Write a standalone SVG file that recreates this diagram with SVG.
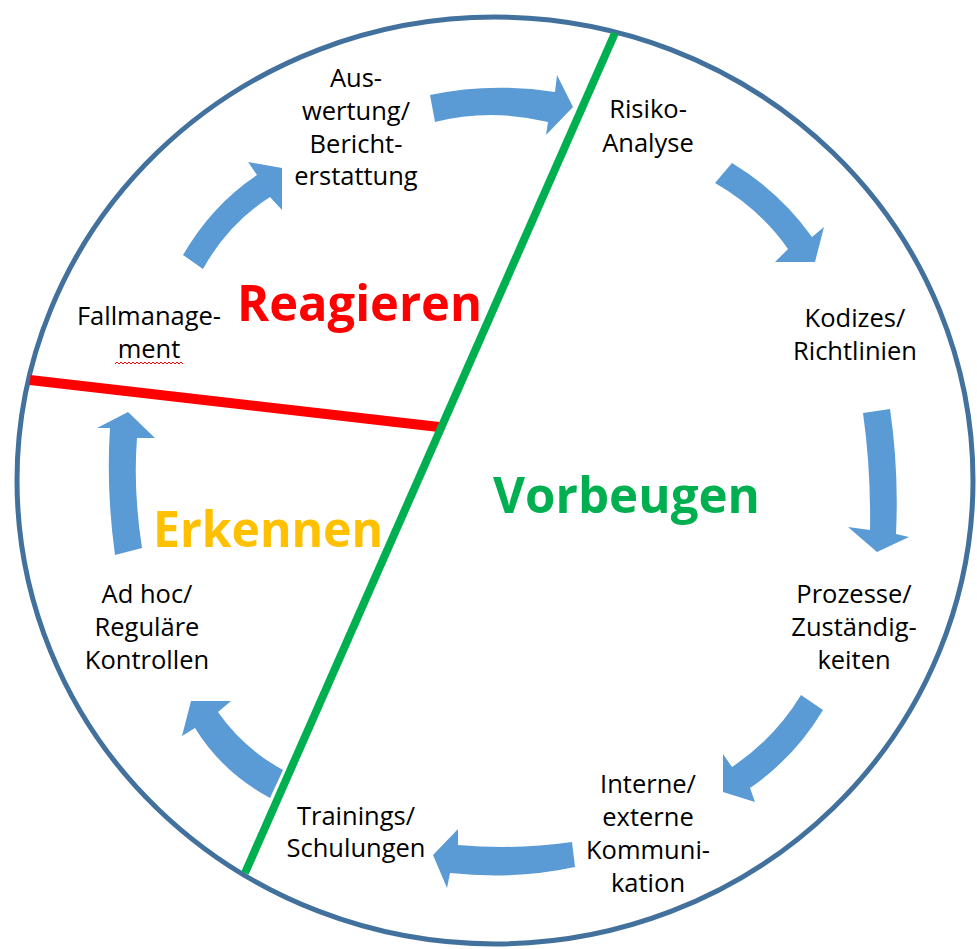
<svg xmlns="http://www.w3.org/2000/svg" width="977" height="949" viewBox="0 0 977 949">
  <style>
    .lbl { font-family: "Open Sans", "Liberation Sans", sans-serif; font-size: 25.5px; fill: #000; text-anchor: middle; }
    .big { font-family: "Open Sans", "Liberation Sans", sans-serif; font-weight: bold; font-size: 50px; }
    .arr { fill: #5B9BD5; }
  </style>
  <rect x="0" y="0" width="977" height="949" fill="#fff"/>
  <g id="connectors">
    <path class="arr" d="M430,95 Q490,82 555,92 L557,75 L573,107 L546,135 L548,122 Q490,108 435,122 Z"/>
    <path class="arr" d="M732,163 Q780,192 812,237 L824,227 L815,262 L775,262 L788,249 Q759,208 715,183 Z"/>
    <path class="arr" d="M863,413 L890,409 Q899,470 896,534 L909,537 L877,552 L848,527 L870,530 Q871,470 863,413 Z"/>
    <path class="arr" d="M801,695 L823,710 Q795,757 750,788 L755,802 L723,792 L723,754 L732,767 Q775,738 801,695 Z"/>
    <path class="arr" d="M572,842 Q515,850 458,845 L458,829 L433,855 L447,888 L450,873 Q515,880 575,867 Z"/>
    <path class="arr" d="M191,701 L231,701 L218,712 Q243,748 283,770 L270,798 Q222,772 195,728 L182,736 Z"/>
    <path class="arr" d="M115,555 L142,548 Q133,490 137,438 L155,438 L128,412 L97,428 L110,428 Q106,490 115,555 Z"/>
    <path class="arr" d="M282,168 L248,162 L257,175 Q212,205 183,255 L203,269 Q228,224 270,197 L282,210 Z"/>
  </g>
  <g id="frame">
    <ellipse cx="495" cy="480.5" rx="478" ry="463.5" fill="none" stroke="#41719C" stroke-width="5"/>
    <line x1="30" y1="380" x2="439" y2="427" stroke="#FF0000" stroke-width="10"/>
    <line x1="615" y1="33" x2="245" y2="873" stroke="#00B050" stroke-width="8"/>
  </g>
  <g id="phase-reagieren"><text class="big" x="237" y="321" fill="#FF0000" textLength="245" lengthAdjust="spacingAndGlyphs">Reagieren</text></g>
  <g id="phase-vorbeugen"><text class="big" x="493" y="513" fill="#00B050" textLength="267" lengthAdjust="spacingAndGlyphs">Vorbeugen</text></g>
  <g id="phase-erkennen"><text class="big" x="153" y="547" fill="#FFC000" textLength="230" lengthAdjust="spacingAndGlyphs">Erkennen</text></g>
  <g id="node-auswertung">
    <text class="lbl" x="356" y="87">Aus-</text>
    <text class="lbl" x="356" y="120">wertung/</text>
    <text class="lbl" x="356" y="153">Bericht-</text>
    <text class="lbl" x="356" y="185">erstattung</text>
  </g>
  <g id="node-risiko">
    <text class="lbl" x="648" y="118">Risiko-</text>
    <text class="lbl" x="648" y="152">Analyse</text>
  </g>
  <g id="node-kodizes">
    <text class="lbl" x="855" y="327">Kodizes/</text>
    <text class="lbl" x="855" y="360">Richtlinien</text>
  </g>
  <g id="node-prozesse">
    <text class="lbl" x="854" y="603">Prozesse/</text>
    <text class="lbl" x="854" y="636">Zuständig-</text>
    <text class="lbl" x="854" y="669">keiten</text>
  </g>
  <g id="node-kommunikation">
    <text class="lbl" x="648" y="793">Interne/</text>
    <text class="lbl" x="648" y="826">externe</text>
    <text class="lbl" x="648" y="859">Kommuni-</text>
    <text class="lbl" x="648" y="892">kation</text>
  </g>
  <g id="node-trainings">
    <text class="lbl" x="356" y="825">Trainings/</text>
    <text class="lbl" x="356" y="857">Schulungen</text>
  </g>
  <g id="node-kontrollen">
    <text class="lbl" x="147" y="603">Ad hoc/</text>
    <text class="lbl" x="147" y="636">Reguläre</text>
    <text class="lbl" x="147" y="669">Kontrollen</text>
  </g>
  <g id="node-fallmanagement">
    <text class="lbl" x="149" y="325">Fallmanage-</text>
    <text class="lbl" x="149" y="358">ment</text>
    <path d="M115,364 l2,-2 l2,2 l2,-2 l2,2 l2,-2 l2,2 l2,-2 l2,2 l2,-2 l2,2 l2,-2 l2,2 l2,-2 l2,2 l2,-2 l2,2 l2,-2 l2,2 l2,-2 l2,2 l2,-2 l2,2 l2,-2 l2,2 l2,-2 l2,2 l2,-2 l2,2 l2,-2 l2,2 l2,-2 l2,2 l2,-2 l2,2" fill="none" stroke="#FF0000" stroke-width="1"/>
  </g>
</svg>
